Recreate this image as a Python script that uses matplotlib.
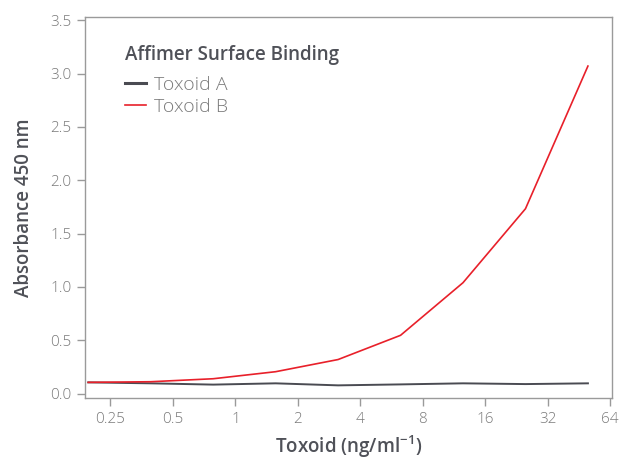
import matplotlib
matplotlib.use("Agg")
import matplotlib.pyplot as plt
from matplotlib.ticker import FixedLocator, NullLocator

plt.rcParams['font.family'] = ['Open Sans', 'DejaVu Sans']
plt.rcParams['mathtext.fontset'] = 'custom'
plt.rcParams['mathtext.rm'] = 'Open Sans'

# toxoid concentration, 2-fold dilution from 50 ng/ml
conc = [0.1953125, 0.390625, 0.78125, 1.5625, 3.125, 6.25, 12.5, 25, 50]
toxoid_a = [0.106, 0.097, 0.085, 0.097, 0.078, 0.087, 0.097, 0.090, 0.097]
toxoid_b = [0.106, 0.112, 0.140, 0.206, 0.320, 0.547, 1.040, 1.733, 3.070]
xticks = [0.25, 0.5, 1, 2, 4, 8, 16, 32, 64]
xticklabels = ['0.25', '0.5', '1', '2', '4', '8', '16', '32', '64']
yticks = [0.0, 0.5, 1.0, 1.5, 2.0, 2.5, 3.0, 3.5]

fig = plt.figure(figsize=(6.19, 4.59), dpi=100)
ax = fig.add_axes([0.137, 0.133, 0.851, 0.830])

ax.plot(conc, toxoid_a, color='#4a4b52', lw=1.4, label='Toxoid A')
ax.plot(conc, toxoid_b, color='#e8202a', lw=1.2, label='Toxoid B')

ax.set_xscale('log', base=2)
ax.set_xlim(0.188, 65)
ax.set_ylim(-0.04, 3.53)
ax.xaxis.set_major_locator(FixedLocator(xticks))
ax.xaxis.set_minor_locator(NullLocator())
ax.set_xticklabels(xticklabels)
ax.set_yticks(yticks)
ax.set_yticklabels(['%.1f' % v for v in yticks])

for s in ax.spines.values():
    s.set_color('#9a9a9a')
    s.set_linewidth(1.0)
ax.tick_params(axis='both', colors='#9a9a9a', length=6, width=1.0,
               labelcolor='#7a7a7a', labelsize=11)
ax.tick_params(axis='x', pad=4)
for lab in ax.get_xticklabels() + ax.get_yticklabels():
    lab.set_fontweight('light')

ax.set_xlabel('Toxoid (ng/ml$^{\\mathregular{-1}}$)', fontsize=13.5,
              fontweight='semibold', color='#4f5158', labelpad=5)
ax.set_ylabel('Absorbance 450 nm', fontsize=13.5, fontweight='semibold',
              color='#4f5158', labelpad=12)

leg = ax.legend(title='Affimer Surface Binding', loc='upper left',
                bbox_to_anchor=(0.057, 0.953), frameon=False, borderpad=0,
                handlelength=1.1, handletextpad=0.4, labelspacing=0.22,
                fontsize=14, alignment='left')
leg._legend_box.sep = 8
leg.get_title().set_fontsize(13.5)
leg.get_title().set_fontweight('semibold')
leg.get_title().set_color('#4f5158')
for t in leg.get_texts():
    t.set_color('#7a7a7a')
    t.set_fontweight('light')
leg.get_lines()[0].set_linewidth(2.2)

fig.savefig('out.png', dpi=100)
